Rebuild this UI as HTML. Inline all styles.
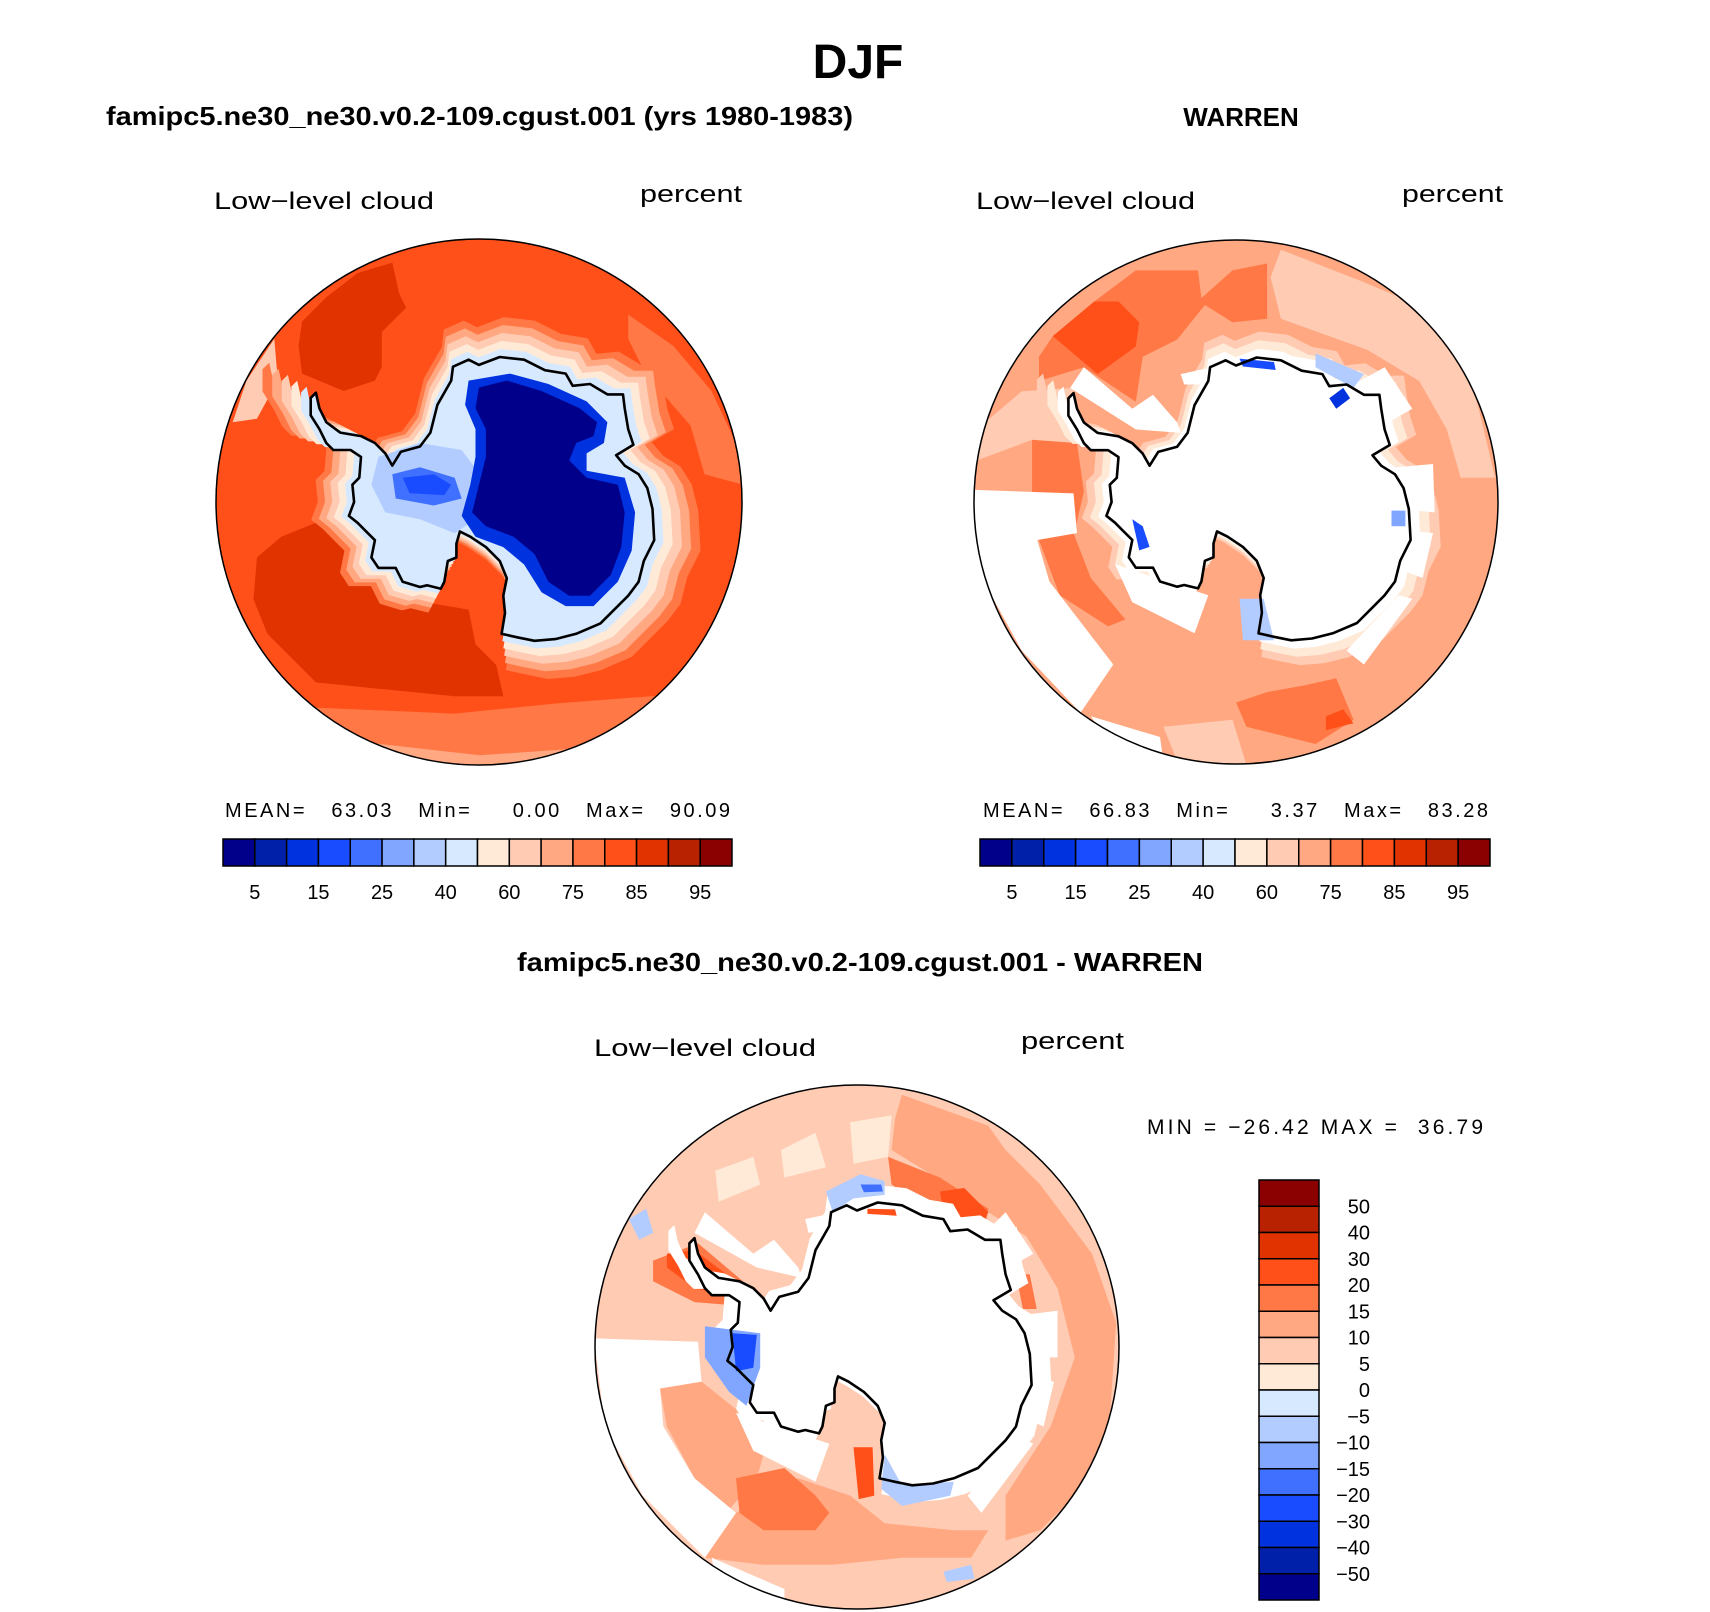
<!DOCTYPE html>
<html><head><meta charset="utf-8"><title>DJF Low-level cloud</title>
<style>
html,body{margin:0;padding:0;background:#fff;}
svg{display:block;font-family:"Liberation Sans",sans-serif;}
</style></head>
<body>
<svg id="fig" width="1710" height="1612" viewBox="0 0 1710 1612" xmlns="http://www.w3.org/2000/svg">
<rect width="1710" height="1612" fill="#fff"/>
<text x="858" y="78" text-anchor="middle" font-size="48" font-weight="bold">DJF</text>
<text x="106" y="125" font-size="26" font-weight="bold" textLength="747" lengthAdjust="spacingAndGlyphs">famipc5.ne30_ne30.v0.2-109.cgust.001 (yrs 1980-1983)</text>
<text x="1241" y="126" text-anchor="middle" font-size="26" font-weight="bold">WARREN</text>
<text x="214" y="209" font-size="24" textLength="220" lengthAdjust="spacingAndGlyphs">Low−level cloud</text>
<text x="640" y="202" font-size="24" textLength="102" lengthAdjust="spacingAndGlyphs">percent</text>
<text x="976" y="209" font-size="24" textLength="219" lengthAdjust="spacingAndGlyphs">Low−level cloud</text>
<text x="1402" y="202" font-size="24" textLength="101" lengthAdjust="spacingAndGlyphs">percent</text>
<text x="225" y="817" font-size="20" textLength="505" lengthAdjust="spacing" xml:space="preserve">MEAN=   63.03   Min=     0.00   Max=   90.09</text>
<text x="983" y="817" font-size="20" textLength="505" lengthAdjust="spacing" xml:space="preserve">MEAN=   66.83   Min=     3.37   Max=   83.28</text>
<text x="517" y="971" font-size="26" font-weight="bold" textLength="686" lengthAdjust="spacingAndGlyphs">famipc5.ne30_ne30.v0.2-109.cgust.001 - WARREN</text>
<text x="594" y="1056" font-size="24" textLength="222" lengthAdjust="spacingAndGlyphs">Low−level cloud</text>
<text x="1021" y="1049" font-size="24" textLength="103" lengthAdjust="spacingAndGlyphs">percent</text>
<text x="1147" y="1134" font-size="21" textLength="336" lengthAdjust="spacing" xml:space="preserve">MIN = −26.42 MAX =  36.79</text>
<g id="maps"></g>
<g id="bars"></g>
</svg>
<script>
// ---------- colour scale / colourbar data ----------
const levelColors = ["#00008b","#0020aa","#0032e0","#1a4cff","#4070ff","#80a6ff","#b3ccff","#d6e9ff","#ffead8","#ffcbb3","#ffa882","#ff7845","#ff5019","#e03300","#b82200","#8b0000"];
const hBarLabels = ["5","15","25","40","60","75","85","95"];
const hBarLabelIdx = [1,3,5,7,9,11,13,15];
const vBarLabels = ["50","40","30","20","15","10","5","0","−5","−10","−15","−20","−30","−40","−50"];

// coastline (traced, normalised later)
const coast = [[300,455],[310,500],[330,540],[370,570],[430,580],[470,600],[500,630],[520,665],[545,625],[600,610],[630,570],[650,490],[690,420],[695,380],[740,360],[770,375],[830,352],[900,360],[960,390],[1020,400],[1040,435],[1090,430],[1140,460],[1185,460],[1190,500],[1200,560],[1215,605],[1165,635],[1190,665],[1230,690],[1255,730],[1270,790],[1275,880],[1245,940],[1230,1000],[1200,1040],[1160,1080],[1120,1120],[1050,1150],[990,1165],[930,1170],[880,1160],[835,1150],[845,1090],[840,1040],[850,990],[830,940],[790,900],[745,870],[715,855],[705,890],[705,930],[680,940],[670,1000],[660,1020],[620,1010],[600,1015],[550,1000],[530,960],[480,960],[460,930],[470,880],[440,850],[420,830],[395,810],[410,770],[405,720],[425,700],[430,640],[400,620],[350,620],[330,600],[310,560],[285,520],[285,470]];

// ---------- map field regions: [level, polygon] ----------
const leftBase = 13;
const leftRingLevels = [12,11,10,9,8];
const leftRegions = [
 [14,[[260,250],[330,180],[420,110],[520,80],[540,170],[560,210],[490,280],[490,380],[470,420],[380,450],[260,400],[250,320]]],
 [14,[[130,930],[200,870],[300,830],[400,900],[500,1000],[620,1060],[740,1080],[760,1180],[820,1240],[840,1330],[700,1330],[500,1310],[300,1290],[160,1150],[120,1050]]],
 [12,[[1200,230],[1330,320],[1440,450],[1510,600],[1530,720],[1420,690],[1380,550],[1250,400],[1200,300]]],
 [12,[[240,1360],[700,1380],[1000,1350],[1400,1320],[1350,1420],[1100,1510],[772,1535],[450,1480]]],
 [11,[[330,1450],[772,1500],[1200,1470],[1100,1530],[772,1545],[450,1510]]],
 [10,[[60,540],[100,420],[180,300],[190,420],[130,530]]],
 [7,[[480,640],[600,600],[720,620],[780,700],[760,820],[700,860],[600,820],[500,800],[460,720]]],
 [5,[[520,690],[600,670],[700,700],[720,760],[640,780],[530,760]]],
 [4,[[550,700],[640,690],[690,720],[670,750],[570,745]]],
 [3,[[740,420],[860,400],[970,430],[1080,480],[1140,540],[1130,600],[1080,630],[1080,680],[1190,700],[1220,800],[1210,910],[1170,1000],[1100,1070],[1020,1070],[950,1030],[900,950],[840,900],[760,870],[720,810],[745,720],[760,640],[760,560],[730,490]]],
 [1,[[770,440],[850,420],[950,450],[1060,500],[1110,540],[1100,580],[1050,600],[1030,650],[1080,700],[1170,720],[1190,800],[1180,900],[1150,980],[1090,1040],[1030,1040],[970,1000],[930,920],[870,870],[790,840],[750,800],[770,720],[790,640],[790,560],[760,500]]]
];
const rightBase = 11;
const rightRingLevels = [10,9,0];
const rightRegions = [
 [10,[[900,40],[1130,130],[1250,180],[1370,300],[1460,450],[1520,700],[1420,700],[1380,560],[1300,420],[1150,330],[900,240],[870,120]]],
 [12,[[200,350],[240,290],[360,190],[480,100],[660,100],[670,180],[760,100],[860,80],[860,240],[760,250],[680,200],[600,300],[500,350],[480,480],[330,380],[200,420]]],
 [13,[[240,290],[360,190],[430,190],[490,250],[480,320],[370,400]]],
 [12,[[180,590],[310,600],[330,740],[300,870],[200,880],[180,740]]],
 [12,[[200,880],[300,860],[350,990],[450,1110],[400,1130],[260,1040]]],
 [12,[[770,1350],[860,1320],[970,1300],[1060,1280],[1110,1400],[1000,1470],[800,1420]]],
 [13,[[1030,1390],[1080,1370],[1110,1410],[1030,1430]]],
 [10,[[20,560],[150,450],[300,440],[330,600],[180,590],[20,650]]],
 [10,[[560,1420],[760,1400],[800,1530],[600,1520]]]
];
const rightWhite = [
 [[10,735],[300,745],[310,860],[195,880],[230,1000],[330,1130],[415,1240],[320,1380],[150,1200],[40,1000],[10,850]],
 [[350,1390],[550,1450],[560,1520],[400,1460]],
 [[290,440],[330,380],[470,500],[530,460],[600,540],[610,570],[480,560]],
 [[420,950],[690,1040],[650,1150],[470,1060]],
 [[1110,430],[1200,380],[1280,500],[1210,540]],
 [[1230,670],[1340,660],[1345,800],[1240,790]],
 [[1230,850],[1340,860],[1310,990],[1230,960]],
 [[1090,1200],[1240,1040],[1280,1050],[1140,1240]],
 [[610,400],[700,380],[700,430],[620,430]],
 [[890,340],[1000,360],[1010,400],[890,390]]
];
const rightSmall = [
 [4,[[780,355],[880,365],[885,388],[790,378]]],
 [3,[[1040,470],[1080,440],[1100,470],[1060,500]]],
 [7,[[1000,340],[1140,400],[1110,440],[1000,380]]],
 [6,[[1220,795],[1260,795],[1260,840],[1220,840]]],
 [4,[[470,820],[500,840],[520,900],[490,910]]],
 [7,[[780,1050],[850,1050],[880,1170],[790,1170]]]
];
const diffBase = 10;
const diffRingLevels = [0];
const diffRegions = [
 [11,[[900,40],[1150,130],[1200,200],[1300,300],[1450,500],[1520,700],[1500,1000],[1400,1200],[1300,1300],[1200,1330],[1200,1200],[1330,1000],[1400,800],[1350,600],[1260,450],[1150,380],[1000,280],[870,200],[880,110]]],
 [11,[[330,1380],[420,1250],[600,1150],[750,1200],[850,1280],[1050,1300],[1150,1300],[1100,1380],[900,1380],[700,1400],[500,1400]]],
 [11,[[200,890],[320,870],[420,950],[500,1080],[480,1150],[400,1240],[300,1150],[220,1000]]],
 [12,[[420,1150],[560,1120],[650,1200],[690,1250],[650,1300],[500,1300],[430,1250]]],
 [12,[[180,520],[310,470],[440,580],[420,650],[300,640],[180,580]]],
 [12,[[860,220],[1010,280],[1150,370],[1140,430],[1010,400],[870,300]]],
 [13,[[220,500],[300,490],[420,580],[400,620],[300,600],[220,540]]],
 [13,[[760,1060],[815,1060],[820,1200],[775,1210]]],
 [13,[[1010,320],[1080,310],[1150,380],[1130,420],[1020,380]]],
 [12,[[1230,560],[1270,560],[1290,660],[1250,660]]],
 [9,[[360,260],[470,220],[490,300],[370,350]]],
 [9,[[750,120],[870,100],[860,220],[760,240]]],
 [9,[[550,200],[650,150],[680,250],[560,280]]],
 [7,[[110,400],[160,370],[180,440],[140,460]]],
 [7,[[1020,1420],[1100,1400],[1110,1440],[1030,1450]]]
];
const diffWhite = [
 [[10,745],[310,755],[320,870],[200,890],[210,1000],[300,1150],[420,1250],[330,1380],[150,1200],[40,1000]],
 [[300,440],[330,380],[470,500],[530,460],[600,540],[610,570],[480,540]],
 [[420,960],[690,1050],[650,1160],[470,1070]],
 [[1230,680],[1350,665],[1350,800],[1240,800]],
 [[1240,860],[1340,870],[1310,1000],[1240,970]],
 [[1090,1200],[1240,1030],[1280,1050],[1130,1250]],
 [[1150,430],[1200,380],[1280,500],[1210,540]],
 [[900,340],[990,360],[1010,390],[900,380]],
 [[350,1380],[560,1470],[560,1520],[360,1440]],
 [[620,400],[690,385],[700,430],[630,440]]
];
const diffSmall = [
 [6,[[330,710],[490,730],[490,830],[450,940],[400,900],[330,800]]],
 [4,[[410,730],[480,735],[470,830],[420,840]]],
 [7,[[680,320],[780,270],[850,290],[850,330],[760,340],[700,380]]],
 [5,[[780,300],[840,300],[845,320],[790,322]]],
 [7,[[850,1080],[900,1170],[1050,1160],[1040,1200],[900,1230],[840,1180]]],
 [13,[[800,370],[880,372],[885,390],[800,385]]]
];

const NS = "http://www.w3.org/2000/svg";
const maps = document.getElementById("maps");
const bars = document.getElementById("bars");
function mk(tag, attrs, parent){const e=document.createElementNS(NS,tag);for(const k in attrs)e.setAttribute(k,attrs[k]);parent.appendChild(e);return e;}
function proj(p, m){return [m.cx+(p[0]-770)/758*m.r, m.cy+(p[1]-770)/758*m.r];}
function ptsStr(poly,m){return poly.map(p=>proj(p,m).map(v=>v.toFixed(1)).join(",")).join(" ");}
function ringPoly(s){const c=[790,770];return coast.map(p=>[c[0]+(p[0]-c[0])*s,c[1]+(p[1]-c[1])*s]);}
function levelColor(l){return l===0?"#ffffff":levelColors[l-1];}

function drawMap(name, m, base, ringLevels, ringStep, regionsBefore, whites, small, coastFill){
  const g=mk("g",{},maps);
  
  
  const cp=mk("clipPath",{id:"clip-"+name},g);
  mk("circle",{cx:m.cx,cy:m.cy,r:m.r},cp);
  const body=mk("g",{"clip-path":"url(#clip-"+name+")"},g);
  const bg=mk("circle",{cx:m.cx,cy:m.cy,r:m.r,fill:levelColor(base)},body);
  
  
  regionsBefore.forEach(function(rg){
    const p=mk("polygon",{points:ptsStr(rg[1],m),fill:levelColor(rg[0])},body);
    
    
  });
  ringLevels.forEach(function(l,i){
    const s=1+ringStep*(ringLevels.length-i);
    const p=mk("polygon",{points:ptsStr(ringPoly(s),m),fill:levelColor(l),"stroke-linejoin":"round"},body);
    
    
  });
  whites.forEach(function(w){
    const p=mk("polygon",{points:ptsStr(w,m),fill:"#ffffff"},body);
    
    
  });
  const land=mk("polygon",{points:ptsStr(coast,m),fill:levelColor(coastFill)},body);
  
  
  small.forEach(function(rg){
    const p=mk("polygon",{points:ptsStr(rg[1],m),fill:levelColor(rg[0])},body);
    
    
  });
  const cl=mk("polygon",{points:ptsStr(coast,m),fill:"none",stroke:"#000","stroke-width":2.6,"stroke-linejoin":"round"},body);
  
  
  const border=mk("circle",{cx:m.cx,cy:m.cy,r:m.r,fill:"none",stroke:"#000","stroke-width":1.5},g);
  
  
}

const mL={cx:479,cy:502,r:263}, mR={cx:1236,cy:502,r:262}, mD={cx:857,cy:1347,r:262};
drawMap("model-map", mL, leftBase, leftRingLevels, 0.055, leftRegions.slice(0,6), [], [], 8);
// interior blue for left map
(function(){
  const g=maps.lastChild.querySelector("g");
  const coastLine=g.lastChild;
  leftRegions.slice(6).forEach(function(rg){
    const p=document.createElementNS(NS,"polygon");
    p.setAttribute("points",ptsStr(rg[1],mL));
    p.setAttribute("fill",levelColor(rg[0]));
    
    
    g.insertBefore(p,coastLine);
  });
})();
drawMap("obs-map", mR, rightBase, rightRingLevels, 0.06, rightRegions, rightWhite, rightSmall, 0);
drawMap("diff-map", mD, diffBase, diffRingLevels, 0.12, diffRegions, diffWhite, diffSmall, 0);

// ---------- horizontal colourbars ----------
function hBar(name, x0, x1, y0, y1){
  const g=mk("g",{},bars);
  
  
  const w=(x1-x0)/levelColors.length;
  levelColors.forEach(function(c,i){
    const r=mk("rect",{x:x0+i*w,y:y0,width:w,height:y1-y0,fill:c,stroke:"#000","stroke-width":1.5},g);
    
    
  });
  hBarLabels.forEach(function(t,i){
    const tx=mk("text",{x:x0+hBarLabelIdx[i]*w,y:y1+33,"text-anchor":"middle","font-size":20},g);
    tx.textContent=t;
    
    
  });
}
hBar("model-colorbar",223,732,839,866);
hBar("obs-colorbar",980,1490,839,866);

// ---------- vertical colourbar ----------
(function(){
  const g=mk("g",{},bars);
  
  
  const x0=1259,x1=1319,y0=1180,y1=1600,n=levelColors.length,h=(y1-y0)/n;
  for(let i=0;i<n;i++){
    const r=mk("rect",{x:x0,y:y0+i*h,width:x1-x0,height:h,fill:levelColors[n-1-i],stroke:"#000","stroke-width":1.5},g);
    
    
  }
  vBarLabels.forEach(function(t,i){
    const tx=mk("text",{x:1370,y:y0+(i+1)*h+7,"text-anchor":"end","font-size":20},g);
    tx.textContent=t;
    
    
  });
})();
</script>
</body></html>
